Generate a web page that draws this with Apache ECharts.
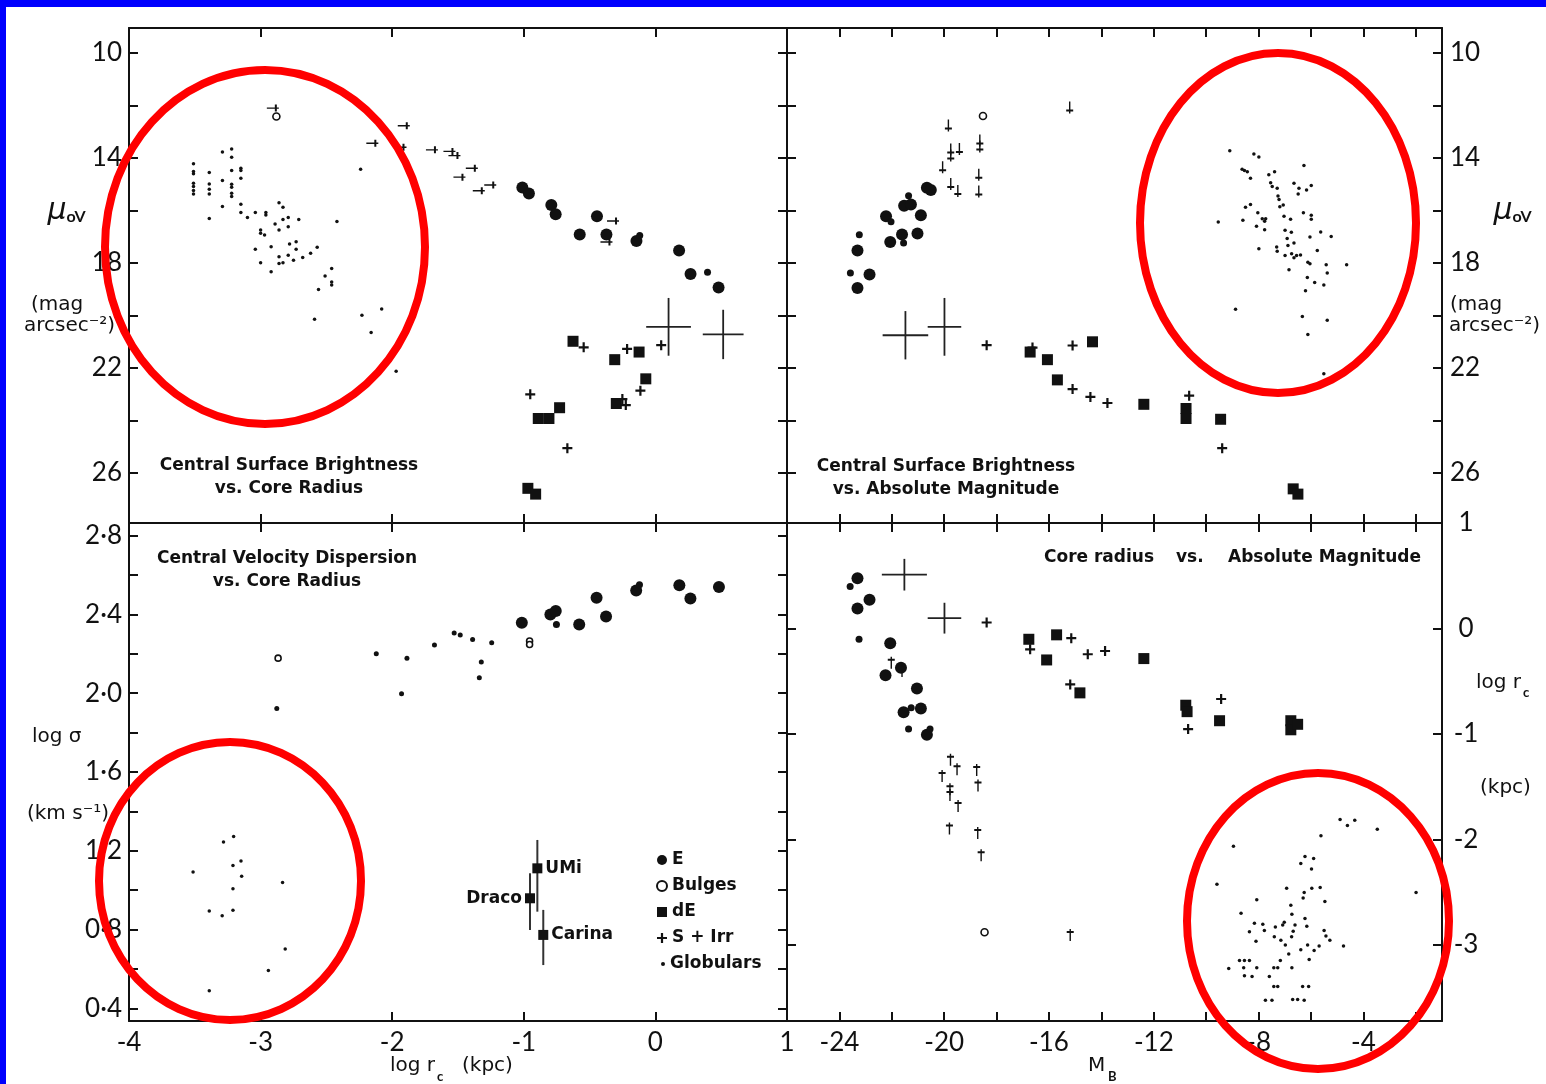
<!DOCTYPE html>
<html><head><meta charset="utf-8">
<script src="https://cdn.jsdelivr.net/npm/echarts@6/dist/echarts.min.js"></script>
<style>html,body{margin:0;padding:0;background:#fff;}#c{width:1546px;height:1084px;}</style>
</head><body><div id="c"></div>
<script>
// ---------------- DATA ----------------
// Panel TL: mu_0V vs log r_c
const tlE = [[-1.011,15.12],[-0.961,15.35],[-0.791,15.79],[-0.758,16.14],[-0.444,16.22],[-0.575,16.91],[-0.372,16.91],[-0.144,17.16],[0.180,17.52],[0.267,18.42],[0.480,18.93]];
const tlESmall = [[-0.119,16.95],[0.396,18.35]];
const tlBulge = [[-2.88,12.42]];
const tlDE = [[-0.626,20.98],[-0.309,21.68],[-0.124,21.39],[-0.073,22.41],[-0.297,23.35],[-0.728,23.51],[-0.809,23.92],[-0.890,23.92],[-0.969,26.58],[-0.910,26.80]];
const tlPlus = [[-0.545,21.21],[-0.215,21.27],[0.044,21.13],[-0.951,23.0],[-0.251,23.18],[-0.225,23.41],[-0.114,22.86],[-0.669,25.05]];
const tlLimit = [[-2.907,12.10],[-2.151,13.44],[-1.912,12.77],[-1.937,13.59],[-1.698,13.69],[-1.565,13.75],[-1.527,13.91],[-1.395,14.39],[-1.489,14.73],[-1.342,15.25],[-1.255,15.03],[-0.322,16.40],[-0.372,17.2]];
const tlGlob = [[-3.51,14.22],[-3.51,14.51],[-3.51,14.6],[-3.51,14.96],[-3.51,15.09],[-3.51,15.24],[-3.51,15.37],
 [-3.39,14.55],[-3.39,14.99],[-3.39,15.19],[-3.39,15.37],[-3.39,16.30],[-3.29,13.77],[-3.29,14.86],[-3.29,15.85],
 [-3.22,13.66],[-3.22,13.97],[-3.22,14.48],[-3.22,15.0],[-3.22,15.11],[-3.22,15.34],[-3.22,15.47],
 [-3.15,14.39],[-3.15,14.48],[-3.15,14.77],[-3.15,15.76],[-3.15,16.08],[-3.10,16.27],[-3.04,16.08],[-3.0,16.74],[-3.0,16.87],
 [-3.04,17.48],[-3.0,17.99],[-2.97,16.93],[-2.96,16.08],[-2.96,16.17],[-2.92,17.38],[-2.92,18.33],[-2.89,16.51],
 [-2.86,15.70],[-2.86,16.74],[-2.86,17.76],[-2.86,18.02],[-2.83,15.88],[-2.83,16.34],[-2.83,17.99],[-2.79,16.27],[-2.79,16.62],
 [-2.79,17.70],[-2.78,17.28],[-2.75,17.89],[-2.73,17.19],[-2.73,17.48],[-2.71,16.34],[-2.68,17.79],[-2.62,17.63],[-2.57,17.40],
 [-2.56,19.01],[-2.59,20.14],[-2.51,18.49],[-2.46,18.21],[-2.46,18.72],[-2.46,18.84],[-2.42,16.42],[-2.24,14.43],[-2.23,19.99],
 [-2.16,20.65],[-2.08,19.75],[-1.97,22.12]];
const tlErr = [[0.10,20.43,0.17,1.1],[0.515,20.72,0.155,0.94]];

// Panel TR: mu_0V vs M_B
const trE = [[-23.31,17.52],[-23.31,18.95],[-22.85,18.44],[-22.22,16.22],[-22.06,17.20],[-21.61,16.91],[-21.53,15.82],[-21.27,15.77],[-20.89,16.18],[-21.02,16.88],[-20.66,15.13],[-20.51,15.22]];
const trESmall = [[-23.58,18.38],[-23.24,16.92],[-22.03,16.43],[-21.55,17.24],[-21.36,15.44]];
const trBulge = [[-18.52,12.40]];
const trDE = [[-16.72,21.39],[-16.06,21.68],[-15.68,22.45],[-14.34,21.0],[-12.38,23.38],[-10.77,23.54],[-10.77,23.92],[-9.45,23.95],[-6.68,26.6],[-6.5,26.8]];
const trPlus = [[-18.38,21.13],[-16.63,21.22],[-15.1,21.14],[-15.1,22.8],[-14.42,23.1],[-13.77,23.33],[-10.65,23.05],[-9.39,25.05]];
const trLimit = [[-19.84,12.76],[-19.75,13.68],[-19.75,13.91],[-19.42,13.66],[-20.06,14.35],[-19.75,14.99],[-19.48,15.26],[-18.64,13.33],[-18.64,13.56],[-18.68,14.64],[-18.68,15.28],[-15.21,12.08]];
const trGlob = [[-9.10,13.72],[-8.18,13.85],[-7.99,13.96],[-8.63,14.43],[-8.54,14.48],[-8.43,14.52],[-8.31,14.77],[-6.27,14.29],[-7.61,14.64],[-7.39,14.52],
 [-7.54,14.94],[-7.48,15.09],[-7.29,15.15],[-6.65,14.96],[-6.46,15.15],[-6.49,15.37],[-6.17,15.22],[-5.99,15.05],[-7.26,15.45],[-7.22,15.58],
 [-8.31,15.77],[-8.50,15.88],[-7.19,15.86],[-7.06,15.79],[-9.54,16.44],[-8.60,16.37],[-8.03,16.09],[-7.86,16.31],[-7.73,16.31],[-7.77,16.41],
 [-8.08,16.60],[-7.77,16.73],[-7.03,16.22],[-6.78,16.33],[-6.29,16.09],[-5.99,16.18],[-5.99,16.33],[-6.99,16.75],[-6.75,16.83],[-6.04,17.01],
 [-5.63,16.82],[-5.23,16.99],[-6.91,17.07],[-6.88,17.33],[-6.65,17.24],[-7.99,17.46],[-7.31,17.39],[-7.29,17.55],[-6.99,17.71],[-6.74,17.65],
 [-6.65,17.80],[-6.55,17.71],[-6.40,17.69],[-5.76,17.52],[-6.84,18.26],[-6.12,17.97],[-6.04,18.03],[-5.42,18.07],[-5.38,18.38],[-4.64,18.07],
 [-6.14,18.55],[-5.86,18.74],[-5.51,18.84],[-6.21,19.06],[-8.88,19.76],[-6.33,20.04],[-5.38,20.18],[-6.12,20.72],[-5.51,22.22]];
const trErr = [[-21.48,20.75,0.87,0.92],[-19.99,20.43,0.64,1.1]];

// Panel BL: log sigma vs log r_c
const blE = [[-1.015,2.358],[-0.798,2.399],[-0.757,2.417],[-0.579,2.349],[-0.447,2.484],[-0.375,2.389],[-0.146,2.521],[0.182,2.548],[0.266,2.481],[0.483,2.539]];
const blESmall = [[-0.752,2.349],[-0.121,2.55]];
const blBulge = [[-2.867,2.178],[-0.956,2.265],[-0.956,2.247]];
const blSmall = [[-2.121,2.2],[-2.877,1.922],[-1.929,1.997],[-1.888,2.178],[-1.679,2.245],[-1.529,2.305],[-1.483,2.296],[-1.389,2.273],[-1.323,2.158],[-1.338,2.079],[-1.244,2.256]];
const blGlob = [[-3.205,1.273],[-3.282,1.245],[-3.21,1.126],[-3.149,1.148],[-3.144,1.071],[-3.21,1.007],[-3.513,1.093],[-2.833,1.039],[-3.39,0.894],[-3.292,0.870],[-3.21,0.898],[-2.813,0.702],[-2.941,0.592],[-3.39,0.49]];
const dwarfNames = ['UMi','Draco','Carina'];
const dwarfLogRc = [-0.897,-0.953,-0.852];
const dwarfLogSigma = [1.111,0.959,0.773];
const dwarfSigmaHi = [1.255,1.086,0.900];
const dwarfSigmaLo = [0.891,0.798,0.620];

// Panel BR: log r_c vs M_B
const brE = [[-23.31,0.476],[-22.85,0.273],[-23.31,0.190],[-22.06,-0.140],[-21.65,-0.371],[-22.24,-0.444],[-21.04,-0.568],[-21.55,-0.794],[-20.89,-0.759],[-20.66,-1.006]];
const brESmall = [[-23.59,0.397],[-23.25,-0.102],[-21.26,-0.752],[-21.36,-0.952],[-20.54,-0.952]];
const brBulge = [[-18.46,-2.879]];
const brDE = [[-16.77,-0.102],[-15.71,-0.06],[-16.09,-0.298],[-14.82,-0.610],[-12.38,-0.285],[-10.78,-0.727],[-10.73,-0.788],[-9.49,-0.874],[-6.77,-0.874],[-6.77,-0.960],[-6.51,-0.908]];
const brPlus = [[-18.38,0.057],[-16.72,-0.197],[-15.15,-0.092],[-14.52,-0.244],[-13.86,-0.213],[-15.19,-0.530],[-9.43,-0.668],[-10.69,-0.953]];
const brLimit = [[-22.02,-0.324],[-21.61,-0.403],[-19.76,-1.244],[-20.08,-1.397],[-19.51,-1.333],[-19.78,-1.524],[-19.78,-1.578],[-19.47,-1.683],[-18.76,-1.340],[-18.71,-1.489],[-19.80,-1.895],[-18.72,-1.937],[-18.59,-2.149],[-15.19,-2.905]];
const brGlob = [[-4.89,-1.810],[-4.61,-1.868],[-4.33,-1.817],[-3.47,-1.903],[-5.62,-1.964],[-8.96,-2.064],
 [-6.23,-2.160],[-5.90,-2.180],[-6.39,-2.228],[-5.98,-2.280],[-9.59,-2.424],[-6.93,-2.461],[-5.97,-2.461],[-5.65,-2.455],[-6.26,-2.503],
 [-6.30,-2.554],[-5.47,-2.588],[-8.07,-2.571],[-6.77,-2.623],[-6.73,-2.708],[-1.99,-2.503],[-8.67,-2.698],[-8.16,-2.794],[-7.84,-2.804],
 [-7.78,-2.863],[-8.35,-2.873],[-8.10,-2.965],[-7.36,-2.828],[-7.02,-2.784],[-7.08,-2.811],[-6.61,-2.811],[-6.23,-2.749],[-6.16,-2.821],
 [-6.68,-2.869],[-7.40,-2.921],[-7.15,-2.955],[-6.98,-3.0],[-6.85,-3.085],[-6.74,-2.921],[-6.39,-3.044],[-6.13,-3.0],[-5.88,-3.051],
 [-5.69,-3.01],[-5.50,-2.863],[-5.43,-2.914],[-5.28,-2.955],[-4.76,-3.01],[-6.07,-3.137],[-7.17,-3.147],[-6.73,-3.216],[-9.14,-3.222],
 [-8.73,-3.147],[-8.54,-3.147],[-8.35,-3.147],[-8.57,-3.216],[-8.07,-3.216],[-8.54,-3.291],[-8.25,-3.298],[-7.59,-3.298],[-7.42,-3.216],
 [-7.27,-3.216],[-7.42,-3.394],[-7.27,-3.394],[-6.32,-3.394],[-6.09,-3.394],[-7.74,-3.524],[-7.49,-3.524],[-6.70,-3.517],[-6.51,-3.517],[-6.26,-3.524]];
const brErr = [[-21.52,0.51,0.86,0.15],[-19.99,0.098,0.64,0.146]];

// Ticks / labels
const logRcTicks = [-4,-3,-2,-1,0,1];
const logRcLabels = [-4,-3,-2,-1,0,1];
const muTicks = [10,12,14,16,18,20,22,24,26];
const muLabels = [10,14,18,22,26];
const mbTicks = [-24,-22,-20,-18,-16,-14,-12,-10,-8,-6,-4,-2];
const mbLabels = [-24,-20,-16,-12,-8,-4];
const sigTicks = [0.4,0.6,0.8,1.0,1.2,1.4,1.6,1.8,2.0,2.2,2.4,2.6,2.8];
const sigLabels = [0.4,0.8,1.2,1.6,2.0,2.4,2.8];
const rcTicks = [1,0,-1,-2,-3];
const rcLabels = [1,0,-1,-2,-3];

// ---------------- CHART ----------------
const INK = '#111';
const FONT = 'Lato';
const chart = echarts.init(document.getElementById('c'), null, {renderer:'canvas'});

function mkAxis(pos, gi, min, max, ticks, labels, o) {
  o = o || {};
  const lab = labels ? Object.assign({show:true, customValues:labels, margin:o.margin||8, color:INK,
      fontFamily:FONT, fontSize:26, formatter:o.fmt||(v=>String(v))}, o.align?{align:o.align}:{}) : {show:false};
  return {type:'value', gridIndex:gi, position:pos, min:min, max:max, inverse:!!o.inverse,
    splitLine:{show:false},
    axisLine:{show:true, onZero:false, lineStyle:{color:INK, width:2}},
    axisTick:{show:true, inside:true, length:9, customValues:ticks, lineStyle:{color:INK, width:2}},
    axisLabel:lab};
}
const sigFmt = v => v.toFixed(1).replace('.', '\u00b7');

const MU = [9.05, 27.9], LRC = [-4, 1], MB = [-26, -1], SIG = [0.336, 2.864], RC = [-3.72, 1.0];
const xAxes = [
  mkAxis('bottom',0,LRC[0],LRC[1],logRcTicks,null),
  mkAxis('top',0,LRC[0],LRC[1],logRcTicks,null),
  mkAxis('bottom',1,MB[0],MB[1],mbTicks,null),
  mkAxis('top',1,MB[0],MB[1],mbTicks,null),
  mkAxis('bottom',2,LRC[0],LRC[1],logRcTicks,logRcLabels,{margin:9}),
  mkAxis('top',2,LRC[0],LRC[1],logRcTicks,null),
  mkAxis('bottom',3,MB[0],MB[1],mbTicks,mbLabels,{margin:9}),
  mkAxis('top',3,MB[0],MB[1],mbTicks,null)
];
const yAxes = [
  mkAxis('left',0,MU[0],MU[1],muTicks,muLabels,{inverse:true,margin:7}),
  mkAxis('right',0,MU[0],MU[1],muTicks,null,{inverse:true}),
  mkAxis('left',1,MU[0],MU[1],muTicks,null,{inverse:true}),
  mkAxis('right',1,MU[0],MU[1],muTicks,muLabels,{inverse:true,margin:8}),
  mkAxis('left',2,SIG[0],SIG[1],sigTicks,sigLabels,{margin:7,fmt:sigFmt}),
  mkAxis('right',2,SIG[0],SIG[1],sigTicks,null),
  mkAxis('left',3,RC[0],RC[1],rcTicks,null),
  mkAxis('right',3,RC[0],RC[1],rcTicks,rcLabels,{margin:24,align:'center'})
];

const PLUS = 'path://M3.9,0H6.1V3.9H10V6.1H6.1V10H3.9V6.1H0V3.9H3.9Z';
const LIM_LEFT = 'path://M0,5.2H12V6.8H0Z M8,2H10V10H8Z';
const LIM_UP = 'path://M5.2,0H6.8V12H5.2Z M2,8H10V10H2Z';
const LIM_DOWN = 'path://M5.2,0H6.8V12H5.2Z M2,2H10V4H2Z';
const fill = {color:INK, opacity:1};
const hollow = {color:'#fff', borderColor:INK, borderWidth:1.6, opacity:1};

function sc(name, data, p, symbol, size, style) {
  return {type:'scatter', name:name, data:data, xAxisIndex:2*p, yAxisIndex:2*p, symbol:symbol,
    symbolSize:size, itemStyle:style||fill, silent:true, z:3};
}
function crossSeries(data, p) {
  return {type:'custom', name:'err', xAxisIndex:2*p, yAxisIndex:2*p, data:data, silent:true, z:2,
    encode:{x:0, y:1},
    renderItem:function(params, api){
      const x=api.value(0), y=api.value(1), dx=api.value(2), dy=api.value(3);
      const l=api.coord([x-dx,y]), r=api.coord([x+dx,y]), t=api.coord([x,y-dy]), b=api.coord([x,y+dy]);
      const st={stroke:'#222', lineWidth:1.8};
      return {type:'group', children:[
        {type:'line', shape:{x1:l[0],y1:l[1],x2:r[0],y2:r[1]}, style:st},
        {type:'line', shape:{x1:t[0],y1:t[1],x2:b[0],y2:b[1]}, style:st}]};
    }};
}
const dwarfBars = dwarfNames.map((n,i)=>[dwarfLogRc[i], dwarfSigmaLo[i], dwarfSigmaHi[i]]);
const dwarfPts = dwarfNames.map((n,i)=>({name:n, value:[dwarfLogRc[i], dwarfLogSigma[i]],
  label:{position: n==='Draco' ? 'left' : 'right'}}));

const BOLD = 'DejaVu Sans';
const series = [
  // TL
  crossSeries(tlErr,0),
  sc('E', tlE, 0, 'circle', 12), sc('E small', tlESmall, 0, 'circle', 7),
  sc('Bulges', tlBulge, 0, 'circle', 7, hollow), sc('dE', tlDE, 0, 'rect', 11),
  sc('S + Irr', tlPlus, 0, PLUS, 10), sc('limit', tlLimit, 0, LIM_LEFT, [12,7]),
  sc('Globulars', tlGlob, 0, 'circle', 3.5),
  // TR
  crossSeries(trErr,1),
  sc('E', trE, 1, 'circle', 12), sc('E small', trESmall, 1, 'circle', 7),
  sc('Bulges', trBulge, 1, 'circle', 7, hollow), sc('dE', trDE, 1, 'rect', 11),
  sc('S + Irr', trPlus, 1, PLUS, 10), sc('limit', trLimit, 1, LIM_UP, [7,12]),
  sc('Globulars', trGlob, 1, 'circle', 3.5),
  // BL
  sc('E', blE, 2, 'circle', 12), sc('E small', blESmall, 2, 'circle', 7),
  sc('Bulges', blBulge, 2, 'circle', 6, hollow), sc('limit', blSmall, 2, 'circle', 5),
  sc('Globulars', blGlob, 2, 'circle', 3.5),
  {type:'custom', name:'dwarf err', xAxisIndex:4, yAxisIndex:4, data:dwarfBars, silent:true, z:2, encode:{x:0,y:[1,2]},
    renderItem:function(params, api){
      const x=api.value(0); const a=api.coord([x,api.value(1)]), b=api.coord([x,api.value(2)]);
      return {type:'line', shape:{x1:a[0],y1:a[1],x2:b[0],y2:b[1]}, style:{stroke:'#333', lineWidth:2}};
    }},
  {type:'scatter', name:'dE', data:dwarfPts, xAxisIndex:4, yAxisIndex:4, symbol:'rect', symbolSize:10,
    itemStyle:fill, silent:true, z:3,
    label:{show:true, formatter:'{b}', color:INK, fontFamily:BOLD, fontWeight:'bold', fontSize:17, distance:3}},
  // BR
  crossSeries(brErr,3),
  sc('E', brE, 3, 'circle', 12), sc('E small', brESmall, 3, 'circle', 7),
  sc('Bulges', brBulge, 3, 'circle', 7, hollow), sc('dE', brDE, 3, 'rect', 11),
  sc('S + Irr', brPlus, 3, PLUS, 10), sc('limit', brLimit, 3, LIM_DOWN, [7,12]),
  sc('Globulars', brGlob, 3, 'circle', 3.5)
];

function txt(text, x, y, font, align, extra) {
  return Object.assign({type:'text', x:x, y:y, z:20, silent:true,
    style:{text:text, fill:INK, font:font, align:align||'center', verticalAlign:'middle', lineHeight:23}}, extra||{});
}
const TF = 'bold 17px "DejaVu Sans"';
const LF = '20px "DejaVu Sans"';
const graphic = [
  {type:'rect', shape:{x:0,y:0,width:1546,height:7}, style:{fill:'#0000fe'}, z:50, silent:true},
  {type:'rect', shape:{x:0,y:0,width:6,height:1084}, style:{fill:'#0000fe'}, z:50, silent:true},
  // panel titles
  txt('Central Surface Brightness\nvs. Core Radius', 289, 477, TF),
  txt('Central Surface Brightness\nvs. Absolute Magnitude', 946, 478, TF),
  txt('Central Velocity Dispersion\nvs. Core Radius', 287, 570, TF),
  txt('Core radius', 1044, 558, TF, 'left'),
  txt('vs.', 1176, 558, TF, 'left'),
  txt('Absolute Magnitude', 1228, 558, TF, 'left'),
  // left mu label
  txt('\u03bc', 57, 211, 'italic 30px "DejaVu Sans"'),
  txt('oV', 76, 217, 'bold 16px Lato'),
  txt('(mag', 57, 305, LF),
  txt('arcsec\u207b\u00b2)', 24, 326, LF, 'left'),
  // right mu label
  txt('\u03bc', 1503, 211, 'italic 30px "DejaVu Sans"'),
  txt('oV', 1522, 217, 'bold 16px Lato'),
  txt('(mag', 1450, 305, LF, 'left'),
  txt('arcsec\u207b\u00b2)', 1449, 326, LF, 'left'),
  // log sigma
  txt('log \u03c3', 32, 737, LF, 'left'),
  txt('(km s\u207b\u00b9)', 68, 814, LF),
  // x titles
  txt('log r', 390, 1066, LF, 'left'),
  txt('c', 437, 1077, 'bold 13px Lato', 'left'),
  txt('(kpc)', 462, 1066, LF, 'left'),
  txt('M', 1088, 1066, LF, 'left'),
  txt('B', 1108, 1077, 'bold 13px Lato', 'left'),
  // right log rc
  txt('log r', 1476, 683, LF, 'left'),
  txt('c', 1523, 693, 'bold 13px Lato', 'left'),
  txt('(kpc)', 1480, 788, LF, 'left'),
  // red annotation ellipses
  {type:'ellipse', shape:{cx:265, cy:247, rx:160, ry:177}, style:{fill:'none', stroke:'#ff0000', lineWidth:8}, z:100, silent:true},
  {type:'ellipse', shape:{cx:1278, cy:223, rx:138, ry:170}, style:{fill:'none', stroke:'#ff0000', lineWidth:8}, z:100, silent:true},
  {type:'ellipse', shape:{cx:230, cy:881, rx:131, ry:139}, style:{fill:'none', stroke:'#ff0000', lineWidth:8}, z:100, silent:true},
  {type:'ellipse', shape:{cx:1318, cy:921, rx:131, ry:148}, style:{fill:'none', stroke:'#ff0000', lineWidth:8}, z:100, silent:true}
];

const legendText = {color:INK, fontFamily:BOLD, fontWeight:'bold', fontSize:17, lineHeight:22};
chart.setOption({
  animation:false,
  backgroundColor:'#fff',
  grid:[
    {left:129, top:28, width:658, height:495},
    {left:787, top:28, width:655, height:495},
    {left:129, top:523, width:658, height:498},
    {left:787, top:523, width:655, height:498}
  ],
  xAxis:xAxes, yAxis:yAxes,
  legend:[
    {orient:'vertical', left:651, top:844, itemWidth:10, itemHeight:10, itemGap:4, selectedMode:false,
     textStyle:legendText,
     data:[{name:'E', icon:'circle'}, {name:'Bulges', icon:'circle'}, {name:'dE', icon:'rect'}, {name:'S + Irr', icon:PLUS}]},
    {orient:'vertical', left:656, top:948, itemWidth:4, itemHeight:4, selectedMode:false,
     textStyle:legendText, data:[{name:'Globulars', icon:'circle'}]}
  ],
  series:series,
  graphic:graphic
});
</script></body></html>
